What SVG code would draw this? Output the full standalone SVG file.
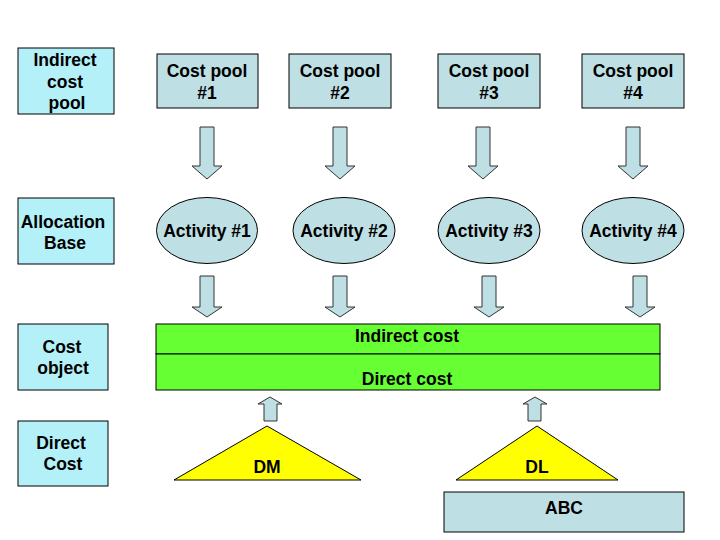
<svg xmlns="http://www.w3.org/2000/svg" width="720" height="540" viewBox="0 0 720 540">
<style>
text{font-family:"Liberation Sans",Arial,sans-serif;font-weight:bold;font-size:17.5px;fill:#000;text-anchor:middle}
.lab{fill:#b4f0f8;stroke:#000;stroke-width:1}
.pool{fill:#bedfe3;stroke:#000;stroke-width:1}
.arr{fill:#bedfe3;stroke:#333;stroke-width:1}
.green{fill:#66ff33;stroke:#000;stroke-width:1}
.tri{fill:#ffff00;stroke:#000;stroke-width:1}
</style>
<rect width="720" height="540" fill="#fff"/>
<g id="label-indirect-cost-pool"><rect class="lab" x="18" y="48" width="96" height="66"/><text x="65" y="66">Indirect</text><text x="65" y="88">cost</text><text x="67" y="109">pool</text></g>
<g id="label-allocation-base"><rect class="lab" x="18" y="198" width="96" height="66"/><text x="63" y="228">Allocation</text><text x="65" y="249">Base</text></g>
<g id="label-cost-object"><rect class="lab" x="18" y="324" width="90" height="66"/><text x="62" y="353">Cost</text><text x="63" y="374">object</text></g>
<g id="label-direct-cost"><rect class="lab" x="18" y="421" width="90" height="65"/><text x="61" y="449">Direct</text><text x="63" y="470">Cost</text></g>
<g id="pool1"><rect class="pool" x="157" y="54" width="101" height="54"/><text x="207" y="77">Cost pool</text><text x="207" y="99">#1</text></g>
<g id="pool2"><rect class="pool" x="289" y="54" width="102" height="54"/><text x="340" y="77">Cost pool</text><text x="340" y="99">#2</text></g>
<g id="pool3"><rect class="pool" x="438" y="54" width="102" height="54"/><text x="489" y="77">Cost pool</text><text x="489" y="99">#3</text></g>
<g id="pool4"><rect class="pool" x="582" y="54" width="102" height="54"/><text x="633" y="77">Cost pool</text><text x="633" y="99">#4</text></g>
<g id="activity1"><ellipse class="pool" cx="207" cy="230.5" rx="50.5" ry="33"/><text x="207" y="237">Activity #1</text></g>
<g id="activity2"><ellipse class="pool" cx="344" cy="230.5" rx="51" ry="33"/><text x="344" y="237">Activity #2</text></g>
<g id="activity3"><ellipse class="pool" cx="489" cy="230.5" rx="51" ry="33"/><text x="489" y="237">Activity #3</text></g>
<g id="activity4"><ellipse class="pool" cx="633" cy="230.5" rx="51" ry="33"/><text x="633" y="237">Activity #4</text></g>
<g id="cost-object"><rect class="green" x="156" y="324" width="504" height="30"/><rect class="green" x="156" y="354" width="504" height="36"/><text x="407" y="342">Indirect cost</text><text x="407" y="385">Direct cost</text></g>
<g id="dm"><polygon class="tri" points="267,426 361,480 174,480"/><text x="267" y="473">DM</text></g>
<g id="dl"><polygon class="tri" points="537,426 618,480 456,480"/><text x="537" y="473">DL</text></g>
<g id="abc"><rect class="pool" x="444" y="492" width="240" height="40"/><text x="564" y="514">ABC</text></g>
<g id="connectors">
<polygon class="arr" points="200,127 214,127 214,166 222,166 207,179 192,166 200,166"/>
<polygon class="arr" points="333,127 347,127 347,166 355,166 340,179 325,166 333,166"/>
<polygon class="arr" points="476,127 490,127 490,166 498,166 483,179 468,166 476,166"/>
<polygon class="arr" points="626,127 640,127 640,166 648,166 633,179 618,166 626,166"/>
<polygon class="arr" points="200,276 214,276 214,307 222,307 207,317 192,307 200,307"/>
<polygon class="arr" points="333,276 347,276 347,307 355,307 340,317 325,307 333,307"/>
<polygon class="arr" points="482,276 496,276 496,307 504,307 489,317 474,307 482,307"/>
<polygon class="arr" points="633,276 647,276 647,307 655,307 640,317 625,307 633,307"/>
<polygon class="arr" points="264,421 277,421 277,404 282,404 270,397 258,404 264,404"/>
<polygon class="arr" points="528,421 541,421 541,404 547,404 535,397 523,404 528,404"/>
</g>
</svg>
